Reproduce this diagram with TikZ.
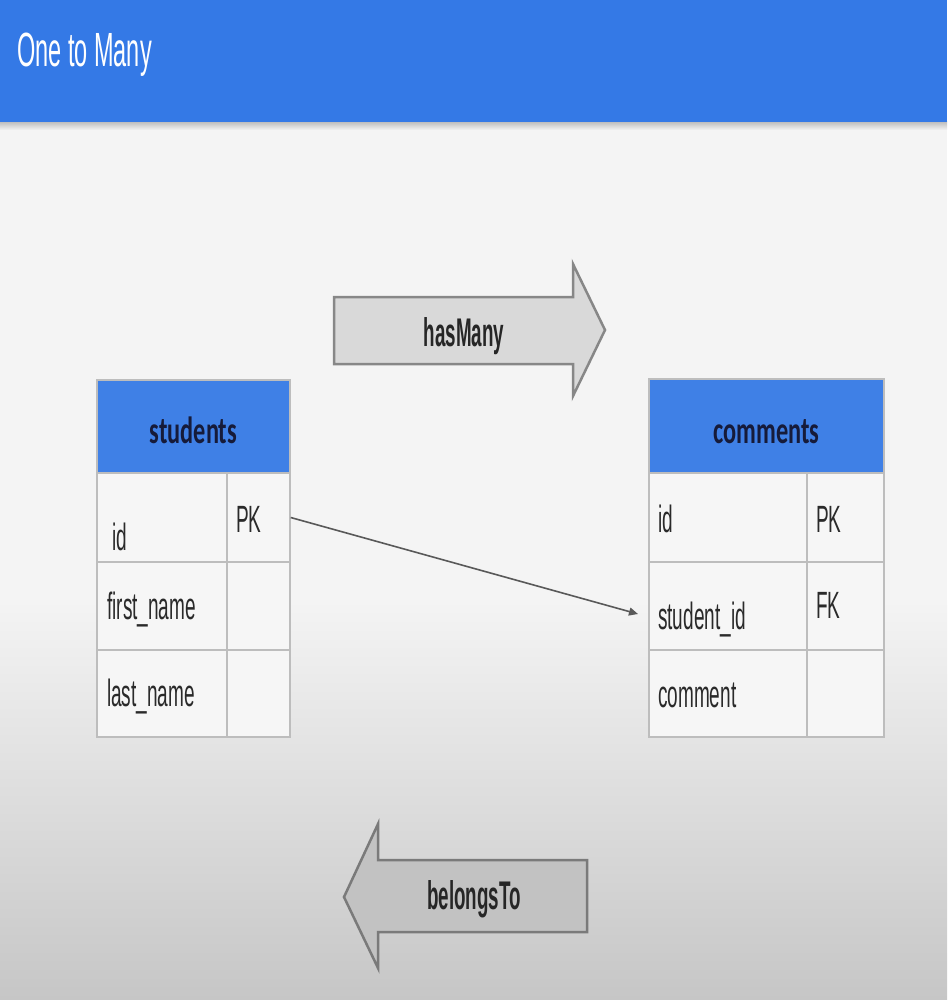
\documentclass[tikz,border=0pt]{standalone}
\usepackage{fontspec}
\usetikzlibrary{arrows.meta}
\newfontfamily\titlefont[FakeStretch=0.49]{Liberation Sans}
\newfontfamily\cellfont[FakeStretch=0.5]{Liberation Sans}
\newfontfamily\arrowfont[FakeStretch=0.47]{Liberation Sans}
\newfontfamily\headfont[FakeStretch=0.64]{Carlito}
\definecolor{barblue}{HTML}{3479E6}
\definecolor{headblue}{HTML}{3F80E6}
\definecolor{bgtop}{HTML}{F4F4F4}
\definecolor{bgbot}{HTML}{C6C6C6}
\definecolor{cellfill}{HTML}{F6F6F6}
\definecolor{gridgray}{HTML}{BDBDBD}
\definecolor{navy}{HTML}{161B3A}
\definecolor{txtgray}{HTML}{2A2A2A}
\tikzset{
  cellbox/.style={draw=gridgray, line width=1.4pt, fill=cellfill, inner sep=0pt},
  headbox/.style={draw=gridgray, line width=1.4pt, fill=headblue, inner sep=0pt},
  celltext/.style={anchor=base west, inner sep=0pt, text=txtgray, font=\cellfont\fontsize{38}{44}\selectfont},
  headtext/.style={anchor=base, inner sep=0pt, text=navy, font=\headfont\bfseries\fontsize{38}{44}\selectfont},
  arrowtext/.style={anchor=base, inner sep=0pt, text=black!85, font=\arrowfont\bfseries\fontsize{40}{46}\selectfont},
  bigarrow/.style={line width=2.5pt, line join=miter},
}
\begin{document}
\begin{tikzpicture}[x=1pt,y=-1pt]
\useasboundingbox (0,0) rectangle (947,1000);
% background
\fill[bgtop] (0,122) rectangle (947,600);
\shade[top color=bgtop, bottom color=bgbot] (0,600) rectangle (947,1000);
% header bar
\shade[top color=black!25, bottom color=bgtop] (0,122) rectangle (947,130);
\fill[barblue] (0,0) rectangle (947,122);
\node[anchor=base west, inner sep=0pt, text=white, font=\titlefont\fontsize{48}{54}\selectfont] (title) at (17,67) {One to Many};

% hasMany arrow
\draw[bigarrow, draw=black!47, fill=black!15] (334,297) -- (573,297) -- (573,264) -- (605,330) -- (573,396) -- (573,364) -- (334,364) -- cycle;
\node[arrowtext] (hasmany) at (464,346) {hasMany};

% belongsTo arrow
\draw[bigarrow, draw=black!52, fill=black!24] (587,860) -- (378,860) -- (378,824) -- (344,897) -- (378,968) -- (378,932) -- (587,932) -- cycle;
\node[arrowtext] (belongsto) at (474,909) {belongsTo};

% students table
\node[headbox, minimum width=193pt, minimum height=93pt] (shead) at (193.5,426.5) {};
\node[cellbox, minimum width=130pt, minimum height=89pt] (sid) at (162,517.5) {};
\node[cellbox, minimum width=63pt, minimum height=89pt] (spk) at (258.5,517.5) {};
\node[cellbox, minimum width=130pt, minimum height=88pt] (sfn) at (162,606) {};
\node[cellbox, minimum width=63pt, minimum height=88pt] (sfnk) at (258.5,606) {};
\node[cellbox, minimum width=130pt, minimum height=87pt] (sln) at (162,693.5) {};
\node[cellbox, minimum width=63pt, minimum height=87pt] (slnk) at (258.5,693.5) {};
\node[headtext] (sheadt) at (193.5,443) {students};
\node[celltext] (sidt) at (112,550) {id};
\node[celltext] (spkt) at (236,532) {PK};
\node[celltext] (sfnt) at (107,619) {first\_name};
\node[celltext] (slnt) at (107,706) {last\_name};

% comments table
\node[headbox, minimum width=235pt, minimum height=94pt] (chead) at (766.5,426) {};
\node[cellbox, minimum width=158pt, minimum height=89pt] (cid) at (728,517.5) {};
\node[cellbox, minimum width=77pt, minimum height=89pt] (cpk) at (845.5,517.5) {};
\node[cellbox, minimum width=158pt, minimum height=88pt] (cst) at (728,606) {};
\node[cellbox, minimum width=77pt, minimum height=88pt] (cfk) at (845.5,606) {};
\node[cellbox, minimum width=158pt, minimum height=87pt] (ccm) at (728,693.5) {};
\node[cellbox, minimum width=77pt, minimum height=87pt] (ccmk) at (845.5,693.5) {};
\node[headtext] (cheadt) at (766.5,443) {comments};
\node[celltext] (cidt) at (658,532) {id};
\node[celltext] (cpkt) at (816,532) {PK};
\node[celltext] (cstt) at (658,629) {student\_id};
\node[celltext] (cfkt) at (816,618) {FK};
\node[celltext] (ccmt) at (658,707) {comment};

% connector
\coordinate (fkend) at (638,614);
\draw[draw=black!65, line width=1.6pt, -{Triangle[length=9pt,width=8pt]}] (spk.east) -- (fkend);
\end{tikzpicture}
\end{document}
